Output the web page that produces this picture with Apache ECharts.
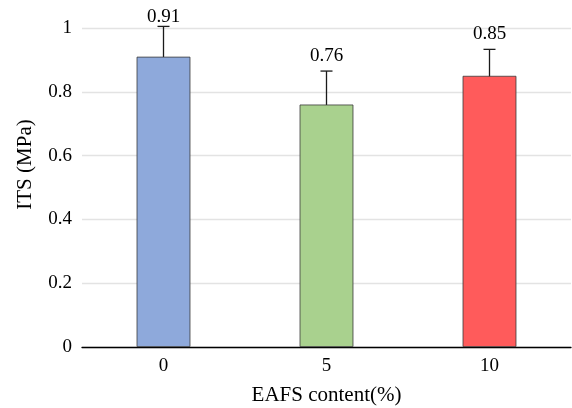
<!DOCTYPE html>
<html><head><meta charset="utf-8">
<script src="https://cdn.jsdelivr.net/npm/echarts@6/dist/echarts.min.js"></script>
<style>html,body{margin:0;padding:0;background:#fff}#c{width:572px;height:408px}</style>
</head><body><div id="c"></div>
<script>
var categories = ['0', '5', '10'];
var values = [0.91, 0.76, 0.85];
var errors = [0.095, 0.105, 0.083];
var colors = ['#8EA9DB', '#A9D18E', '#FF5B5B'];
var yTicks = [0, 0.2, 0.4, 0.6, 0.8, 1];

var chart = echarts.init(document.getElementById('c'));
var font = '"Liberation Serif", "Times New Roman", serif';
chart.setOption({
  animation: false,
  grid: {left: 82, right: 1, top: 28, bottom: 61, outerBoundsMode: 'none', containLabel: false},
  xAxis: {
    type: 'category', data: categories,
    name: 'EAFS content(%)', nameLocation: 'middle', nameGap: 38,
    nameTextStyle: {fontFamily: font, fontSize: 21, color: '#000'},
    axisLine: {lineStyle: {color: '#000', width: 1.3}},
    axisTick: {show: false},
    axisLabel: {fontFamily: font, fontSize: 19, color: '#000', margin: 10}
  },
  yAxis: {
    type: 'value', min: 0, max: 1, interval: 0.2,
    name: 'ITS (MPa)', nameLocation: 'middle', nameGap: 46,
    nameTextStyle: {fontFamily: font, fontSize: 21, color: '#000', padding: [0, 0, 0, 46]},
    axisLine: {show: false}, axisTick: {show: false},
    splitLine: {lineStyle: {color: '#e3e3e3', width: 1.3}},
    axisLabel: {fontFamily: font, fontSize: 19, color: '#000', margin: 10,
      formatter: function (v) { return String(+v.toFixed(1)); }}
  },
  series: [{
    type: 'bar', barWidth: '33%',
    data: values.map(function (v, i) {
      return {value: v, itemStyle: {color: colors[i], borderColor: '#3a3a3a', borderWidth: 0.8}};
    })
  }, {
    type: 'custom',
    data: values.map(function (v, i) { return [i, v, errors[i]]; }),
    renderItem: function (params, api) {
      var i = api.value(0), v = api.value(1), e = api.value(2);
      var hi = api.coord([i, v + e]);
      var lo = api.coord([i, v - e]);
      var hw = 6;
      var st = {stroke: '#1a1a1a', lineWidth: 1.3};
      var labelY = Math.max(hi[1] - 6, params.coordSys.y - 1);
      return {type: 'group', children: [
        {type: 'line', shape: {x1: hi[0], y1: hi[1], x2: lo[0], y2: lo[1]}, style: st},
        {type: 'line', shape: {x1: hi[0] - hw, y1: hi[1], x2: hi[0] + hw, y2: hi[1]}, style: st},
        {type: 'line', shape: {x1: lo[0] - hw, y1: lo[1], x2: lo[0] + hw, y2: lo[1]}, style: st},
        {type: 'text', x: hi[0], y: labelY, style: {text: v.toFixed(2), fill: '#000',
          fontFamily: font, fontSize: 19, align: 'center', verticalAlign: 'bottom'}}
      ]};
    }
  }]
});
</script></body></html>
